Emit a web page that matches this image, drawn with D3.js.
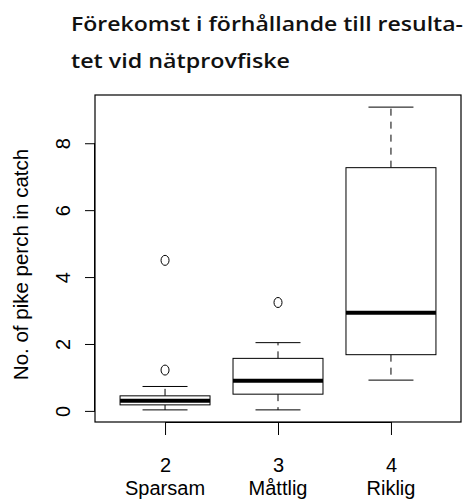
<!DOCTYPE html>
<html>
<head>
<meta charset="utf-8">
<script src="https://cdn.jsdelivr.net/npm/d3@7"></script>
<style>
  body { margin: 0; background: #fff; }
</style>
</head>
<body>
<svg id="chart"></svg>
<script>
// values
const groups = ["2", "3", "4"];
const groupNames = ["Sparsam", "Måttlig", "Riklig"];
const whiskerLow = [0.03, 0.03, 0.92];
const q1 = [0.18, 0.5, 1.68];
const median = [0.3, 0.9, 2.93];
const q3 = [0.45, 1.57, 7.27];
const whiskerHigh = [0.73, 2.04, 9.08];
const outliers = [[1.22, 4.5], [3.24], []];
const yTicks = [0, 2, 4, 6, 8];
const titleLines = ["Förekomst i förhållande till resulta-", "tet vid nätprovfiske"];

const labelFont = "'Liberation Sans', Arial, sans-serif";
const titleFont = "'Open Sans', sans-serif";

let svg = d3.select("#chart").attr("width", 467).attr("height", 502);

let margin = {top: 95, right: 6, bottom: 80, left: 95},
    width = 467 - margin.left - margin.right,
    height = 502 - margin.top - margin.bottom,
    g = svg.append("g").attr("transform", "translate(" + margin.left + "," + margin.top + ")");

// R style: data range plus 4% on each side
let lo = d3.min(whiskerLow), hi = d3.max(whiskerHigh);
let pad = (hi - lo) * 0.04;

let x = d3.scaleLinear().domain([0.38, 3.62]).range([0, width]);
let y = d3.scaleLinear().domain([lo - pad, hi + pad]).range([height, 0]);

let boxW = 90 / 113; // box width in x units

// title, two lines (the original type is set wide)
let titleY = [31, 68], titleW = [392, 219];
titleLines.forEach((t, i) => {
    svg.append("text")
        .attr("x", 71).attr("y", titleY[i])
        .attr("font-family", titleFont)
        .attr("font-weight", 600)
        .attr("font-size", 19.5)
        .attr("fill", "#111")
        .attr("textLength", titleW[i])
        .attr("lengthAdjust", "spacingAndGlyphs")
        .text(t);
});

// frame
g.append("rect")
    .attr("width", width).attr("height", height)
    .attr("fill", "none").attr("stroke", "#000").attr("stroke-width", 1.2);

// y axis
let yAxis = g.append("g")
    .call(d3.axisLeft(y).tickValues(yTicks).tickSize(10).tickFormat(d3.format("d")));
yAxis.select(".domain")
    .attr("d", "M-0.5," + y(0) + "V" + y(8));
yAxis.selectAll(".tick line").attr("stroke", "#000");
yAxis.selectAll(".tick text")
    .attr("font-size", 20)
    .attr("font-family", labelFont)
    .attr("fill", "#000")
    .attr("text-anchor", "middle")
    .attr("transform", "translate(-25,0) rotate(-90)")
    .attr("x", 0).attr("dy", 0);

// x axis
let xAxis = g.append("g")
    .attr("transform", "translate(0," + height + ")")
    .call(d3.axisBottom(x).tickValues([1, 2, 3]).tickSize(13).tickFormat(d => groups[d - 1]));
xAxis.select(".domain").attr("d", "M" + x(1) + ",0.5H" + x(3));
xAxis.selectAll(".tick line").attr("stroke", "#000");
xAxis.selectAll(".tick text")
    .attr("font-size", 20)
    .attr("font-family", labelFont)
    .attr("fill", "#000")
    .attr("y", 50).attr("dy", 0);

// second line of category labels
g.selectAll(".catname")
    .data(groupNames)
    .enter().append("text")
    .attr("class", "catname")
    .attr("x", (d, i) => x(i + 1))
    .attr("y", height + 73)
    .attr("text-anchor", "middle")
    .attr("font-family", labelFont)
    .attr("font-size", 20)
    .attr("fill", "#000")
    .text(d => d);

// y axis title
g.append("text")
    .attr("transform", "translate(-67," + (height / 2 + 6) + ") rotate(-90)")
    .attr("text-anchor", "middle")
    .attr("font-family", labelFont)
    .attr("font-size", 20.5)
    .attr("fill", "#000")
    .text("No. of pike perch in catch");

// boxes
let boxes = g.selectAll(".box")
    .data(groups)
    .enter().append("g")
    .attr("class", "box");

// dashed whiskers
boxes.append("line")
    .attr("x1", (d, i) => x(i + 1)).attr("x2", (d, i) => x(i + 1))
    .attr("y1", (d, i) => y(q3[i])).attr("y2", (d, i) => y(whiskerHigh[i]))
    .attr("stroke", "#000").attr("stroke-dasharray", "7,6");
boxes.append("line")
    .attr("x1", (d, i) => x(i + 1)).attr("x2", (d, i) => x(i + 1))
    .attr("y1", (d, i) => y(q1[i])).attr("y2", (d, i) => y(whiskerLow[i]))
    .attr("stroke", "#000").attr("stroke-dasharray", "7,6");

// whisker caps
[whiskerLow, whiskerHigh].forEach(arr => {
    boxes.append("line")
        .attr("x1", (d, i) => x(i + 1 - boxW / 4)).attr("x2", (d, i) => x(i + 1 + boxW / 4))
        .attr("y1", (d, i) => y(arr[i])).attr("y2", (d, i) => y(arr[i]))
        .attr("stroke", "#000");
});

boxes.append("rect")
    .attr("x", (d, i) => x(i + 1 - boxW / 2))
    .attr("width", x(boxW) - x(0))
    .attr("y", (d, i) => y(q3[i]))
    .attr("height", (d, i) => y(q1[i]) - y(q3[i]))
    .attr("fill", "#fff").attr("stroke", "#000");

boxes.append("line")
    .attr("x1", (d, i) => x(i + 1 - boxW / 2)).attr("x2", (d, i) => x(i + 1 + boxW / 2))
    .attr("y1", (d, i) => y(median[i])).attr("y2", (d, i) => y(median[i]))
    .attr("stroke", "#000").attr("stroke-width", 4);

// outliers
boxes.each(function(d, i) {
    d3.select(this).selectAll("ellipse")
        .data(outliers[i])
        .enter().append("ellipse")
        .attr("cx", x(i + 1))
        .attr("cy", v => y(v))
        .attr("rx", 4).attr("ry", 5)
        .attr("fill", "none").attr("stroke", "#000");
});
</script>
</body>
</html>
